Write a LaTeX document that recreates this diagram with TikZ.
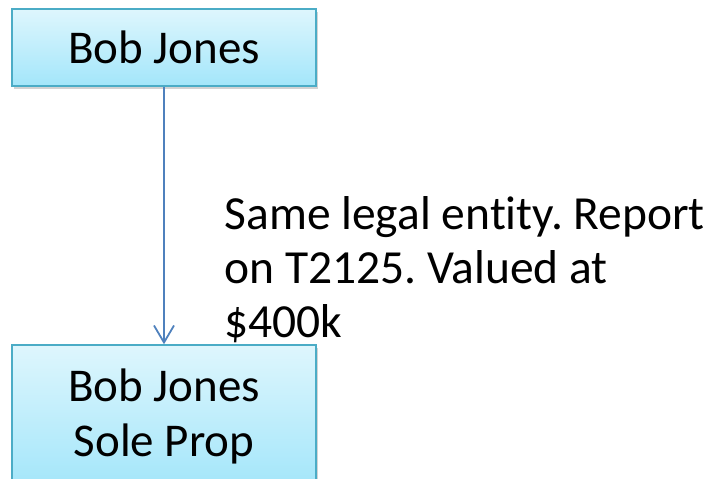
\documentclass[tikz,border=0pt]{standalone}
\usepackage{fontspec}
\setmainfont{Carlito}[Ligatures=NoCommon]
\usetikzlibrary{arrows.meta,shadows}
\definecolor{boxline}{RGB}{75,172,198}
\definecolor{boxtop}{RGB}{222,246,253}
\definecolor{boxbottom}{RGB}{163,230,250}
\definecolor{arrowblue}{RGB}{79,129,189}
\tikzset{
  entity/.style={draw=boxline, line width=1.5pt, top color=boxtop, bottom color=boxbottom,
    minimum width=304pt, align=center, font=\fontsize{47}{55}\selectfont,
    drop shadow={shadow xshift=2pt, shadow yshift=-3pt, opacity=0.35}},
}
\frenchspacing
\begin{document}
\begin{tikzpicture}[x=1pt,y=-1pt]
\useasboundingbox (0,0) rectangle (716,479);
\node [entity, minimum height=77pt] (bob) at (164,47.5) {Bob Jones};
\node [entity, minimum height=143pt] (soleprop) at (164,416.5) {Bob Jones\\Sole Prop};
%
\draw [arrowblue, line width=1.8pt, -{Straight Barb[length=17pt,width=20pt,line width=1.8pt]}] (bob.south) -- (soleprop.north);
\node [anchor=base west, align=left, font=\fontsize{47.5}{54}\selectfont] (note) at (221,337)
  {Same legal entity. Report\\on T2125. Valued at\\\$400k};
%
\end{tikzpicture}
\end{document}
